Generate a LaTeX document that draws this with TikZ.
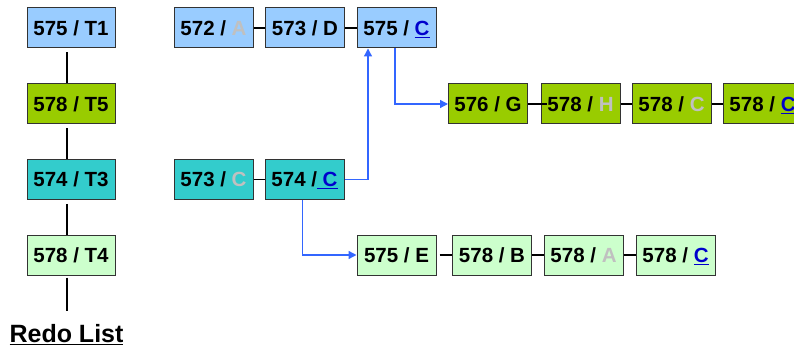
\documentclass[tikz,border=0pt]{standalone}
\usepackage{fontspec}
\setmainfont{Liberation Sans}
\usetikzlibrary{arrows.meta}
\definecolor{cblue}{HTML}{99CCFF}
\definecolor{cgreen}{HTML}{99CC00}
\definecolor{cteal}{HTML}{33CCCC}
\definecolor{clight}{HTML}{CCFFCC}
\definecolor{cgray}{HTML}{C0C0C0}
\definecolor{clink}{HTML}{0000CC}
\definecolor{carrow}{HTML}{3366FF}
\newcommand{\gl}[1]{\textcolor{cgray}{#1}}
\newcommand{\lk}[1]{\textcolor{clink}{\underline{#1}}}
\begin{document}
\begin{tikzpicture}[x=1pt,y=-1pt,
 box/.style={draw=black!80, line width=1pt, minimum width=79pt, minimum height=40pt, inner sep=0pt, text height=14.7pt, text depth=0pt, font=\fontsize{20.5}{24}\selectfont\bfseries},
 wbox/.style={box, minimum width=88pt},
 link/.style={draw=black, line width=1.5pt},
 flow/.style={draw=carrow, line width=1.3pt, -{Triangle[length=8pt,width=8pt]}}]
\useasboundingbox (0,0) rectangle (794,347);
\clip (0,0) rectangle (794,347);
% left column
\node[wbox, fill=cblue] (lt1) at (71,28) {575 / T1};
\node[wbox, fill=cgreen] (lt5) at (71,104) {578 / T5};
\node[wbox, fill=cteal] (lt3) at (71,179.5) {574 / T3};
\node[wbox, fill=clight] (lt4) at (71,255) {578 / T4};
\coordinate (lend) at (67,311);
\draw[link, shorten <=4pt] ([xshift=-4pt]lt1.south) -- ([xshift=-4pt]lt5.north);
\draw[link, shorten <=4pt] ([xshift=-4pt]lt5.south) -- ([xshift=-4pt]lt3.north);
\draw[link, shorten <=4pt] ([xshift=-4pt]lt3.south) -- ([xshift=-4pt]lt4.north);
\draw[link, shorten <=2pt] ([xshift=-4pt]lt4.south) -- (lend);
\node[font=\fontsize{25}{29}\selectfont\bfseries] (redo) at (66.5,335) {\underline{Redo List}};
% row 1
\node[box, fill=cblue] (r572) at (213.5,28) {572 / \gl{A}};
\node[box, fill=cblue] (r573) at (305,28) {573 / D};
\node[box, fill=cblue] (r575) at (396.5,28) {575 / \lk{C}};
\draw[link] (r572.east) -- (r573.west);
\draw[link] (r573.east) -- (r575.west);
% green row
\node[box, fill=cgreen] (g576) at (488,104) {576 / G};
\node[box, fill=cgreen] (g578h) at (580.5,104) {578 / \gl{H}};
\node[box, fill=cgreen] (g578c) at (671.5,104) {578 / \gl{C}};
\node[box, fill=cgreen] (g578l) at (762.5,104) {578 / \lk{C}};
\draw[link] (g576.east) -- ([xshift=6pt]g578h.west);
\draw[link] (g578h.east) -- (g578c.west);
\draw[link] (g578c.east) -- (g578l.west);
% teal row
\node[box, fill=cteal] (t573) at (213.5,179.5) {573 / \gl{C}};
\node[box, fill=cteal] (t574) at (304.5,179.5) {574 /\lk{\ C}};
\draw[link] (t573.east) -- (t574.west);
% light row
\node[box, fill=clight] (l575) at (396.5,255) {575 / E};
\node[box, fill=clight] (l578b) at (492,255) {578 / B};
\node[box, fill=clight] (l578a) at (583.5,255) {578 / \gl{A}};
\node[box, fill=clight] (l578c) at (675.5,255) {578 / \lk{C}};
\draw[link, shorten <=3pt] (l575.east) -- (l578b.west);
\draw[link] (l578b.east) -- (l578a.west);
\draw[link] (l578a.east) -- (l578c.west);
% blue arrows
\draw[flow] (t574.east) -| ([xshift=-28.5pt]r575.south);
\draw[flow] ([xshift=-1.5pt]r575.south) |- (g576.west);
\draw[flow] ([xshift=-2pt]t574.south) |- (l575.west);
\end{tikzpicture}
\end{document}
